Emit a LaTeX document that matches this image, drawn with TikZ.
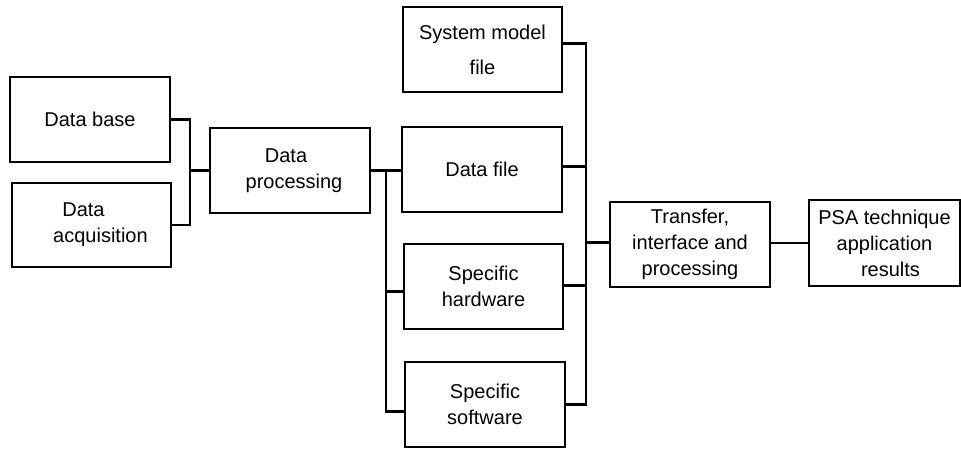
\documentclass[tikz,border=0pt]{standalone}
\usepackage{fontspec}
\setmainfont{Liberation Sans}
\usetikzlibrary{calc}
\begin{document}
\begin{tikzpicture}[x=1pt,y=-1pt,
  box/.style={draw,line width=2.1pt,rectangle,inner sep=0pt,align=center,
    minimum width=160pt,minimum height=85pt,
    font=\fontsize{20}{26}\selectfont},
  wire/.style={line width=2.1pt}]
\useasboundingbox (0,0) rectangle (961,448);

% blocks
\node[box] (db)  at (90,119.5)    {Data base};
\node[box,minimum width=159pt,minimum height=84pt] (da) at (91.5,225) {\hspace*{-16pt}Data\\\hspace*{18pt}acquisition};
\node[box] (dp)  at (290,170.5)   {\hspace*{-8pt}Data\\\hspace*{8pt}processing};
\node[box,minimum width=159pt,font=\fontsize{20}{35}\selectfont] (sm) at (482.5,49.5) {System model\\file};
\node[box] (df)  at (482,169.5)   {Data file};
\node[box,minimum width=159pt] (hw) at (483.5,286.5) {Specific\\hardware};
\node[box] (sw)  at (485,404.5)   {Specific\\software};
\node[box] (tr)  at (690,244.5)   {Transfer,\\interface and\\processing};
\node[box,minimum width=151pt,minimum height=86pt] (psa) at (884.5,243) {PSA technique\\application\\\hspace*{12pt}results};

% bus positions
\coordinate (bl) at (190,0);
\coordinate (bm) at (386,0);
\coordinate (br) at (586,0);

% inputs to data processing
\draw[wire] (db.east) -| (bl |- da.east) -- (da.east);
\draw[wire] (bl |- dp.west) -- (dp.west);

% data processing to the four branches
\draw[wire] (dp.east) -- (dp.east -| df.west);
\draw[wire] (bm |- dp.east) -- ($(bm |- sw.west)+(0,7)$) -- ($(sw.west)+(0,7)$);
\draw[wire] ($(bm |- hw.west)+(0,5)$) -- ($(hw.west)+(0,5)$);

% branches to transfer block
\draw[wire] ($(sm.east)+(0,-6)$) -| (br |- sw.east) -- (sw.east);
\draw[wire] ($(df.east)+(0,-3)$) -- ($(br |- df.east)+(0,-3)$);
\draw[wire] ($(hw.east)+(0,-1)$) -- ($(br |- hw.east)+(0,-1)$);
\draw[wire] ($(br |- tr.west)+(0,-2)$) -- ($(tr.west)+(0,-2)$);

% transfer to results
\draw[wire] (tr.east |- psa.west) -- (psa.west);
\end{tikzpicture}
\end{document}
